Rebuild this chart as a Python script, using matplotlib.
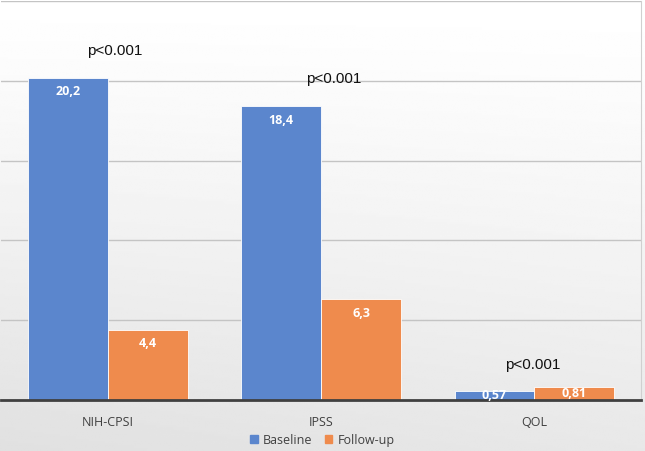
import matplotlib
matplotlib.use("Agg")
import matplotlib.pyplot as plt
import numpy as np
from matplotlib.patches import Patch

categories = ["NIH-CPSI", "IPSS", "QOL"]
baseline = [20.2, 18.4, 0.57]
followup = [4.4, 6.3, 0.81]
baseline_labels = ["20,2", "18,4", "0,57"]
followup_labels = ["4,4", "6,3", "0,81"]
p_labels = ["p<0.001", "p<0.001", "p<0.001"]
series_names = ["Baseline", "Follow-up"]

blue = "#5b86cd"
orange = "#ef8b4d"

fig = plt.figure(figsize=(6.45, 4.52), dpi=100)

# background gradient (white at top, light grey toward bottom-left)
bg = fig.add_axes([0, 0, 1, 1], zorder=-10)
gx, gy = np.meshgrid(np.linspace(0, 1, 200), np.linspace(0, 1, 200))
shade = 1.0 - 0.09 * gy ** 1.2 - 0.03 * (1 - gx) * gy
bg.imshow(shade, cmap="gray", vmin=0, vmax=1, extent=[0, 1, 0, 1], aspect="auto", origin="upper")
bg.axis("off")

ax = fig.add_axes([0.002, 0.1128, 0.992, 0.8828])
ax.patch.set_alpha(0)
x = np.arange(len(categories))
w = 0.375
ax.bar(x - w / 2, baseline, w, color=blue, edgecolor="white", linewidth=0.6, zorder=3)
ax.bar(x + w / 2, followup, w, color=orange, edgecolor="white", linewidth=0.6, zorder=3)

ax.set_xlim(-0.5, 2.5)
ax.set_ylim(0, 25)
ax.set_yticks([5, 10, 15, 20, 25])
ax.yaxis.grid(True, color="#c4c4c4", linewidth=1.0, zorder=0)
ax.tick_params(axis="y", left=False, labelleft=False)
ax.tick_params(axis="x", bottom=False, pad=7)
ax.set_xticks(x)
ax.set_xticklabels(categories, fontfamily="Open Sans", fontsize=9, color="#404040")
for s in ["left", "top"]:
    ax.spines[s].set_visible(False)
ax.spines["right"].set_color("#d0d0d0")
ax.spines["bottom"].set_color("#404040")
ax.spines["bottom"].set_linewidth(2)
ax.spines["bottom"].set_zorder(5)

def label_pos(v):
    return v - 0.8 if v > 2 else v * 0.6

for xi, v, t in zip(x - w / 2, baseline, baseline_labels):
    ax.text(xi, label_pos(v), t, ha="center", va="center", color="white",
            fontsize=9, fontweight="bold", fontfamily="Open Sans", zorder=6)
for xi, v, t in zip(x + w / 2, followup, followup_labels):
    ax.text(xi, label_pos(v), t, ha="center", va="center", color="white",
            fontsize=9, fontweight="bold", fontfamily="Open Sans", zorder=6)

p_pos = [(0.03, 21.9), (1.06, 20.2), (1.99, 2.25)]
for (px, py), t in zip(p_pos, p_labels):
    ax.text(px, py, t, ha="center", va="center", fontsize=11,
            fontfamily="Liberation Sans", color="#111111", zorder=6)

handles = [Patch(color=blue), Patch(color=orange)]
fig.legend(handles, series_names, loc="center", bbox_to_anchor=(0.5, 0.025),
           ncol=2, frameon=False, handlelength=0.6, handleheight=0.6,
           handletextpad=0.4, columnspacing=1.0,
           prop={"family": "Open Sans", "size": 9}, labelcolor="#404040")

fig.savefig("out.png", dpi=100)
